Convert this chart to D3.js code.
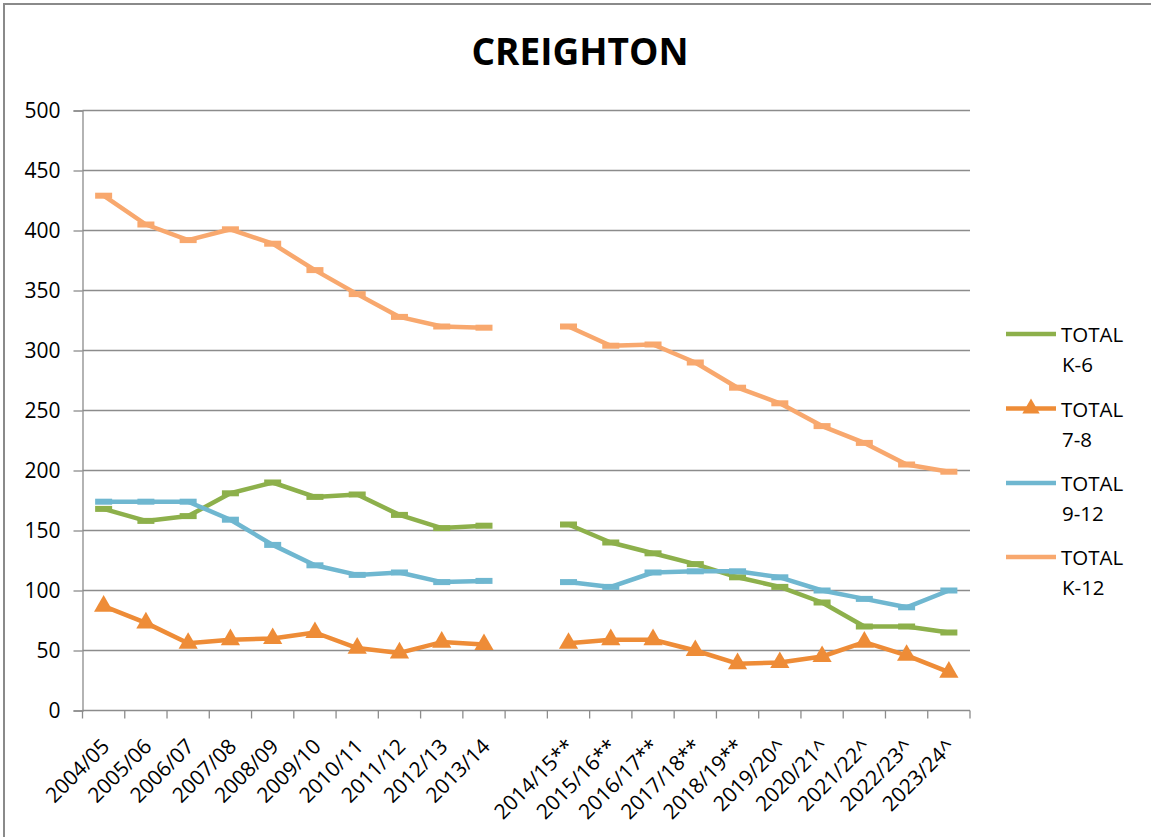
<!DOCTYPE html>
<html>
<head>
<meta charset="utf-8">
<script src="https://cdn.jsdelivr.net/npm/d3@7"></script>
<style>
  html, body { margin: 0; padding: 0; background: #fff; }
  svg { display: block; }
  text { font-family: "Open Sans", "Noto Sans", sans-serif; fill: #000; }
</style>
</head>
<body>
<script>
// ---- data ----
const title = "CREIGHTON";
const categories = ["2004/05","2005/06","2006/07","2007/08","2008/09","2009/10","2010/11","2011/12","2012/13","2013/14",
  "",
  "2014/15**","2015/16**","2016/17**","2017/18**","2018/19**","2019/20^","2020/21^","2021/22^","2022/23^","2023/24^"];
const seriesNames = ["TOTAL K-6", "TOTAL 7-8", "TOTAL 9-12", "TOTAL K-12"];
const legendLines = [["TOTAL","K-6"],["TOTAL","7-8"],["TOTAL","9-12"],["TOTAL","K-12"]];
const totalK6  = [168,158,162,181,190,178,180,163,152,154, null, 155,140,131,122,111,103,90,70,70,65];
const total78  = [87,73,56,59,60,65,52,48,57,55, null, 56,59,59,50,39,40,45,57,46,32];
const total912 = [174,174,174,159,138,121,113,115,107,108, null, 107,103,115,116,116,111,100,93,86,100];
const totalK12 = [429,405,392,401,389,367,347,328,320,319, null, 320,304,305,290,269,256,237,223,205,199];
const yTicks = [0,50,100,150,200,250,300,350,400,450,500];

const seriesValues = [totalK6, total78, total912, totalK12];
const colors = ["#8DB04B", "#EE8C37", "#6FB7D0", "#F8A86E"];
const markers = ["dash", "triangle", "dash", "dash"];

// ---- layout ----
const W = 1151, H = 837;
const plot = { left: 82.5, right: 970, top: 110.5, bottom: 710.5 };

const svg = d3.select("body").append("svg").attr("width", W).attr("height", H);

// frame
svg.append("rect").attr("x", 4).attr("y", 4).attr("width", 1160).attr("height", 850)
  .attr("fill", "none").attr("stroke", "#8a8a8a").attr("stroke-width", 2);

// title
svg.append("text").attr("x", 580).attr("y", 65).attr("text-anchor", "middle")
  .style("font-size", "37px").style("font-weight", "bold").text(title);

const x = d3.scaleBand().domain(categories).range([plot.left, plot.right]).padding(0);
const y = d3.scaleLinear().domain([0, 500]).range([plot.bottom, plot.top]);

// grid lines
svg.append("g").selectAll("line").data(yTicks.filter(d => d > 0)).join("line")
  .attr("x1", plot.left).attr("x2", plot.right)
  .attr("y1", d => y(d)).attr("y2", d => y(d))
  .attr("stroke", "#8c8c8c").attr("stroke-width", 1.3);

// y axis
const yAxis = d3.axisLeft(y).tickValues(yTicks).tickSize(9).tickPadding(13);
const gy = svg.append("g").attr("transform", `translate(${plot.left},0)`).call(yAxis);
gy.select(".domain").attr("stroke", "#8c8c8c").attr("stroke-width", 1.3);
gy.selectAll(".tick line").attr("stroke", "#8c8c8c").attr("stroke-width", 1.3);
gy.selectAll(".tick text").style("font-size", "21px").style("font-family", "'Open Sans', sans-serif").attr("fill", "#000");

// x axis (ticks between categories)
const boundaries = categories.map(c => x(c)).concat([x(categories[categories.length - 1]) + x.bandwidth()]);
const gx = svg.append("g");
gx.append("line").attr("x1", plot.left).attr("x2", plot.right)
  .attr("y1", plot.bottom).attr("y2", plot.bottom)
  .attr("stroke", "#8c8c8c").attr("stroke-width", 1.3);
gx.selectAll("line.tk").data(boundaries).join("line").attr("class", "tk")
  .attr("x1", d => d).attr("x2", d => d)
  .attr("y1", plot.bottom).attr("y2", plot.bottom + 8)
  .attr("stroke", "#8c8c8c").attr("stroke-width", 1.3);
gx.selectAll("text").data(categories.filter(c => c !== "")).join("text")
  .attr("text-anchor", "end")
  .attr("dy", "0.35em")
  .attr("transform", d => `translate(${x(d) + x.bandwidth() / 2 + 2},${plot.bottom + 32}) rotate(-45)`)
  .style("font-size", "21px")
  .text(d => d);

// lines
const line = d3.line()
  .defined(d => d.v != null)
  .x(d => x(d.c) + x.bandwidth() / 2)
  .y(d => y(d.v));

seriesValues.forEach((vals, si) => {
  const pts = categories.map((c, i) => ({ c, v: vals[i] }));
  const g = svg.append("g");
  g.append("path").datum(pts).attr("d", line)
    .attr("fill", "none").attr("stroke", colors[si]).attr("stroke-width", 4.5)
    .attr("stroke-linejoin", "round").attr("stroke-linecap", "round");
  const valid = pts.filter(d => d.v != null);
  if (markers[si] === "triangle") {
    const tri = d3.symbol().type(d3.symbolTriangle).size(160);
    g.selectAll("path.m").data(valid).join("path").attr("class", "m")
      .attr("d", tri)
      .attr("transform", d => `translate(${x(d.c) + x.bandwidth() / 2},${y(d.v)})`)
      .attr("fill", colors[si]);
  } else {
    g.selectAll("rect.m").data(valid).join("rect").attr("class", "m")
      .attr("x", d => x(d.c) + x.bandwidth() / 2 - 8.5)
      .attr("y", d => y(d.v) - 3)
      .attr("width", 17).attr("height", 6)
      .attr("fill", colors[si]);
  }
});

// legend
const legendY = [334, 408.5, 483, 557];
const lg = svg.append("g");
seriesNames.forEach((name, i) => {
  const ly = legendY[i];
  lg.append("line").attr("x1", 1006).attr("x2", 1056).attr("y1", ly).attr("y2", ly)
    .attr("stroke", colors[i]).attr("stroke-width", 4.5);
  if (markers[i] === "triangle") {
    lg.append("path").attr("d", d3.symbol().type(d3.symbolTriangle).size(130))
      .attr("transform", `translate(1031,${ly})`).attr("fill", colors[i]);
  }
  const t = lg.append("text").attr("x", 1061).attr("y", ly + 8).style("font-size", "20.5px");
  t.append("tspan").attr("x", 1061).text(legendLines[i][0]);
  t.append("tspan").attr("x", 1062).attr("dy", 30).text(legendLines[i][1]);
});
</script>
</body>
</html>
